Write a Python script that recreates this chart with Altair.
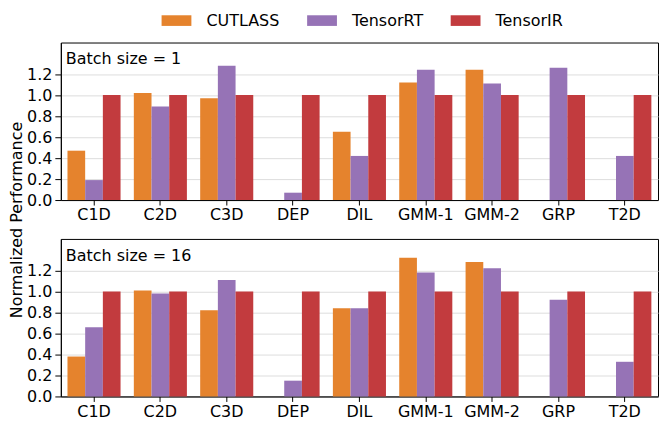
import altair as alt
import pandas as pd

categories = ["C1D", "C2D", "C3D", "DEP", "DIL", "GMM-1", "GMM-2", "GRP", "T2D"]
systems = ["CUTLASS", "TensorRT", "TensorIR"]
colors = ["#e5832d", "#9673b6", "#c23b3e"]

bs1_cutlass = [0.47, 1.02, 0.97, None, 0.65, 1.12, 1.24, None, None]
bs1_tensorrt = [0.19, 0.89, 1.28, 0.07, 0.42, 1.24, 1.11, 1.26, 0.42]
bs1_tensorir = [1.0, 1.0, 1.0, 1.0, 1.0, 1.0, 1.0, 1.0, 1.0]

bs16_cutlass = [0.38, 1.01, 0.82, None, 0.84, 1.32, 1.28, None, None]
bs16_tensorrt = [0.66, 0.98, 1.11, 0.15, 0.84, 1.18, 1.22, 0.92, 0.33]
bs16_tensorir = [1.0, 1.0, 1.0, 1.0, 1.0, 1.0, 1.0, 1.0, 1.0]

y_ticks = [0.0, 0.2, 0.4, 0.6, 0.8, 1.0, 1.2]

FS = 16
W, H, GAP = 599, 158, 39


def make_df(series):
    rows = []
    for sys_name, vals in zip(systems, series):
        for cat, v in zip(categories, vals):
            if v is not None:
                rows.append({"workload": cat, "system": sys_name, "value": v})
    return pd.DataFrame(rows)


def panel(series, label, show_title):
    df = make_df(series)
    if show_title:
        yaxis = alt.Axis(
            values=y_ticks, format=".1f", grid=True, tickSize=6, labelPadding=3,
            title="Normalized Performance", titleY=H + GAP / 2, titleX=-36,
            titleFontSize=FS, titleFontWeight="normal", titleColor="black",
        )
    else:
        yaxis = alt.Axis(values=y_ticks, format=".1f", grid=True, tickSize=6,
                         labelPadding=3, title=None)
    bars = alt.Chart(df).mark_bar().encode(
        x=alt.X("workload:N", sort=categories,
                scale=alt.Scale(domain=categories, paddingInner=0.2, paddingOuter=0.1),
                axis=alt.Axis(title=None, labelAngle=0, tickSize=5, labelPadding=2,
                              grid=False)),
        xOffset=alt.XOffset("system:N", sort=systems,
                            scale=alt.Scale(domain=systems, paddingInner=0, paddingOuter=0)),
        y=alt.Y("value:Q", scale=alt.Scale(domain=[0, 1.5], nice=False), axis=yaxis),
        color=alt.Color("system:N", sort=systems,
                        scale=alt.Scale(domain=systems, range=colors),
                        legend=alt.Legend(
                            title=None, orient="none", direction="horizontal",
                            legendX=108, legendY=-30,
                            symbolType="M-2.8,-1H2.8V1H-2.8Z", symbolSize=114,
                            symbolStrokeWidth=0, labelOffset=22, columnPadding=27,
                            labelFontSize=FS, labelFont="DejaVu Sans", labelColor="black",
                            padding=0,
                        )),
    )
    txt = alt.Chart(pd.DataFrame({"t": [label]})).mark_text(
        align="left", baseline="alphabetic", fontSize=FS, font="DejaVu Sans", color="black"
    ).encode(text="t:N", x=alt.value(5), y=alt.value(22))
    return alt.layer(bars, txt).properties(width=W, height=H)


top = panel([bs1_cutlass, bs1_tensorrt, bs1_tensorir], "Batch size = 1", True)
bottom = panel([bs16_cutlass, bs16_tensorrt, bs16_tensorir], "Batch size = 16", False)

chart = alt.vconcat(top, bottom, spacing=GAP, bounds="flush").properties(
    padding={"left": 0, "right": 0, "top": 4, "bottom": 0}
).configure_view(
    stroke="black", strokeWidth=1
).configure_axis(
    labelFont="DejaVu Sans", labelFontSize=FS, labelColor="black",
    titleFont="DejaVu Sans", domainColor="black", tickColor="black",
    gridColor="#dddddd", gridWidth=1,
)

chart.save("out.html", embed_options={"renderer": "svg", "actions": False})
